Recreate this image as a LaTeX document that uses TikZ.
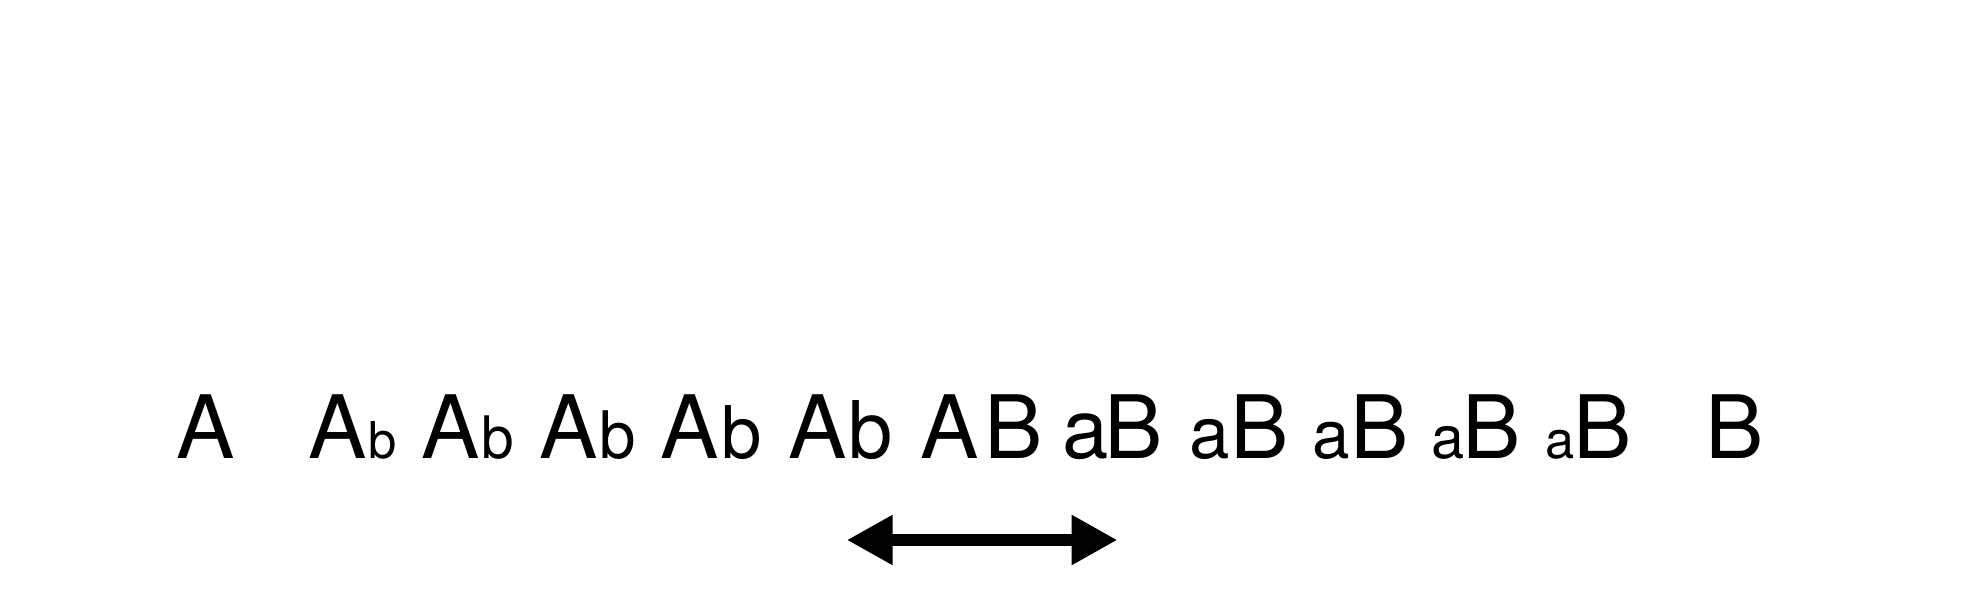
\documentclass[tikz,border=0pt]{standalone}
\usepackage{fontspec}
\setmainfont{TeX Gyre Heros}
\usetikzlibrary{arrows.meta}
\newcommand{\fsz}[1]{\fontsize{#1pt}{#1pt}\selectfont}
\begin{document}
\begin{tikzpicture}[x=1pt,y=1pt,
  glyph/.style={anchor=base, inner sep=0pt, outer sep=0pt, text=black},
  big/.style={glyph, font=\fsz{87.5}},
  dblarrow/.style={line width=12pt, {Triangle[length=46pt,width=47pt]}-{Triangle[length=46pt,width=47pt]}}]
\useasboundingbox (0,0) rectangle (1972,596);
% single A
\node[big] (A0) at (205.9,137) {A};
% Ab items
\node[big] (A1) at (338,137) {A};
\node[glyph, font=\fsz{50.8}] (b1) at (383,137) {b};
\node[big] (A2) at (450.5,137) {A};
\node[glyph, font=\fsz{58.6}] (b2) at (497.5,137) {b};
\node[big] (A3) at (568.4,137) {A};
\node[glyph, font=\fsz{65.6}] (b3) at (617.5,137) {b};
\node[big] (A4) at (689.8,137) {A};
\node[glyph, font=\fsz{72.6}] (b4) at (741.7,137) {b};
\node[big] (A5) at (817.3,137) {A};
\node[glyph, font=\fsz{79.6}] (b5) at (871,137) {b};
% AB
\node[big] (A6) at (949.6,137) {A};
\node[big] (B6) at (1014,137) {B};
% aB items
\node[glyph, font=\fsz{83.1}] (a7) at (1085.5,137) {a};
\node[big] (B7) at (1134,137) {B};
\node[glyph, font=\fsz{72.6}] (a8) at (1209.8,137) {a};
\node[big] (B8) at (1259.5,137) {B};
\node[glyph, font=\fsz{67.4}] (a9) at (1331.4,137) {a};
\node[big] (B9) at (1379.3,137) {B};
\node[glyph, font=\fsz{59.5}] (a10) at (1448,137) {a};
\node[big] (B10) at (1491.8,137) {B};
\node[glyph, font=\fsz{52.5}] (a11) at (1560,137) {a};
\node[big] (B11) at (1602.4,137) {B};
% single B
\node[big] (B12) at (1734.5,137) {B};
% arrow
\coordinate (arrL) at (846.7,56);
\coordinate (arrR) at (1117.5,56);
\draw[dblarrow] (arrL) -- (arrR);
\end{tikzpicture}
\end{document}
